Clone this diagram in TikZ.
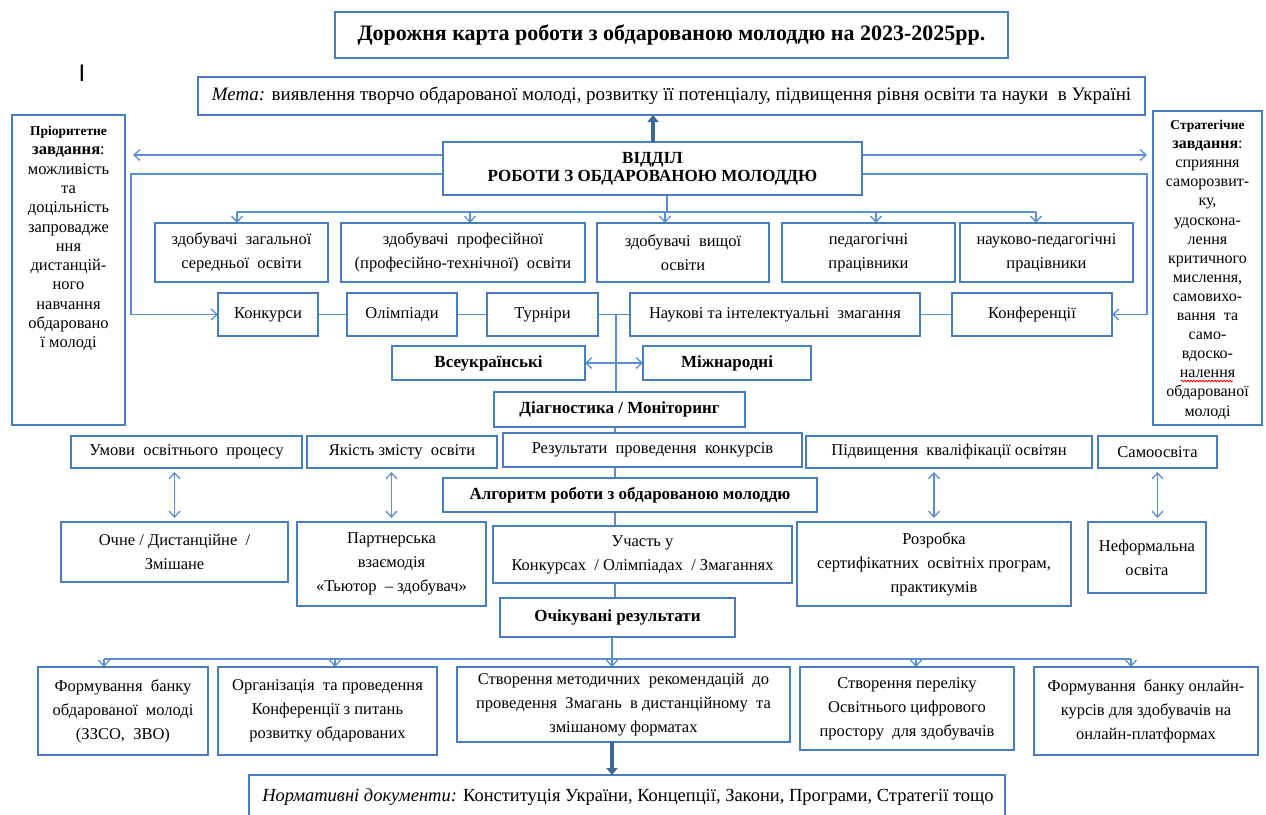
\documentclass[tikz,border=0pt]{standalone}
\usepackage{fontspec}
\setmainfont{Liberation Serif}
\setsansfont{Liberation Sans}
\usetikzlibrary{arrows.meta,decorations.pathmorphing,calc}
\definecolor{boxblue}{HTML}{4A7EBB}
\definecolor{lineblue}{HTML}{5B8FD0}
\definecolor{thickblue}{HTML}{3D6699}
\pgfdeclarelayer{back}
\pgfdeclarelayer{bg}
\pgfsetlayers{back,bg,main}
\tikzset{
 box/.style={draw=boxblue, line width=2.6pt, fill=white, inner sep=0pt, outer sep=0pt, align=center, font=\fontsize{16.5}{24}\selectfont},
 boldbox/.style={font=\fontsize{17}{24}\selectfont\bfseries},
 conn/.style={draw=lineblue, line width=1.3pt},
 arr/.style={conn, -{Straight Barb[length=6pt,width=11pt]}},
 darr/.style={conn, {Straight Barb[length=6pt,width=11pt]}-{Straight Barb[length=6pt,width=11pt]}},
 bigarr/.style={draw=thickblue, line width=4.5pt, -{Triangle[length=7pt,width=11pt]}},
 sidetext/.style={align=center, inner sep=0pt},
}
\newcommand\bx[6][]{\node[box,#1,minimum width={#4-#2},minimum height={#5-#3}] (#6) at ({(#2+#4)/2},{(#3+#5)/2})}
\begin{document}
\begin{tikzpicture}[x=1pt,y=-1pt]
\clip (0,0) rectangle (1266,814);
\begin{pgfonlayer}{back}
\fill[white] (0,0) rectangle (1266,814);
\end{pgfonlayer}

% title and goal
\bx[font=\fontsize{22}{26}\selectfont\bfseries]{335}{12}{1008}{58}{title}{Дорожня карта роботи з обдарованою молоддю на 2023-2025рр.};
\node[font=\fontsize{24}{24}\selectfont\sffamily, inner sep=0pt] (cursor) at (82,73) {I};
\bx[font=\fontsize{19}{22}\selectfont]{198}{77}{1145}{115}{meta}{\textit{Мета:} виявлення творчо обдарованої молоді, розвитку її потенціалу, підвищення рівня освіти та науки \ в Україні};
\bx[font=\fontsize{17}{18}\selectfont\bfseries]{443}{142}{862}{195}{vid}{ВІДДІЛ\\РОБОТИ З ОБДАРОВАНОЮ МОЛОДДЮ};

% side boxes
\bx{12}{115}{125}{425}{pri}{};
\node[sidetext, anchor=north, font=\fontsize{16.5}{19.3}\selectfont] (pritext) at ($(pri.north)+(0,11)$) {{\fontsize{13.5}{19.3}\selectfont\bfseries Пріоритетне}\\\textbf{завдання}:\\можливість\\та\\доцільність\\запровадже\\ння\\дистанцій-\\ного\\навчання\\обдаровано\\ї молоді};
\bx{1153}{111}{1262}{425}{str}{};
\node[sidetext, anchor=north, font=\fontsize{16}{19.1}\selectfont] (strtext) at ($(str.north)+(0,9)$) {{\fontsize{13.5}{19.1}\selectfont\bfseries Стратегічне}\\\textbf{завдання}:\\сприяння\\саморозвит-\\ку,\\удоскона-\\лення\\критичного\\мислення,\\самовихо-\\вання \ та\\само-\\вдоско-\\налення\\обдарованої\\молоді};

% row 1
\bx{155}{223}{328}{282}{za}{здобувачі \ загальної\\середньої \ освіти};
\bx{341}{223}{585}{282}{zb}{здобувачі \ професійної\\(професійно-технічної) \ освіти};
\bx{597}{223}{769}{282}{zc}{здобувачі \ вищої\\освіти};
\bx{782}{223}{955}{282}{zd}{педагогічні\\працівники};
\bx{960}{223}{1133}{282}{ze}{науково-педагогічні\\працівники};

% row 2
\bx{218}{293}{318}{336}{konk}{Конкурси};
\bx{347}{293}{457}{336}{olim}{Олімпіади};
\bx{487}{293}{598}{336}{turn}{Турніри};
\bx{630}{293}{920}{336}{nauk}{Наукові та інтелектуальні \ змагання};
\bx{952}{293}{1112}{336}{konf}{Конференції};

% row 3
\bx[boldbox]{392}{346}{585}{380}{vseu}{Всеукраїнські};
\bx[boldbox]{643}{346}{811}{380}{mizh}{Міжнародні};
\bx[boldbox]{494}{392}{745}{427}{diag}{Діагностика / Моніторинг};

% row 4
\bx{71}{436}{302}{468}{umov}{Умови \ освітнього \ процесу};
\bx{307}{436}{497}{468}{yak}{Якість змісту \ освіти};
\bx{503}{433}{802}{467}{rez}{Результати \ проведення \ конкурсів};
\bx{806}{436}{1092}{468}{pidv}{Підвищення \ кваліфікації освітян};
\bx{1098}{436}{1217}{468}{samo}{Самоосвіта};
\bx[boldbox]{443}{478}{817}{512}{alg}{Алгоритм роботи з обдарованою молоддю};

% row 5
\bx{61}{522}{288}{582}{ochne}{Очне / Дистанційне \ /\\Змішане};
\bx{297}{522}{486}{606}{part}{Партнерська\\взаємодія\\«Тьютор \ – здобувач»};
\bx{493}{526}{792}{583}{uch}{Участь у\\Конкурсах \ / Олімпіадах \ / Змаганнях};
\bx{797}{522}{1071}{606}{rozr}{Розробка\\сертифікатних \ освітніх програм,\\практикумів};
\bx{1088}{522}{1206}{593}{nef}{Неформальна\\освіта};
\bx[boldbox]{500}{598}{735}{637}{ochik}{Очікувані результати};

% row 6
\bx{38}{667}{208}{755}{fa}{Формування \ банку\\обдарованої \ молоді\\(ЗЗСО, \ ЗВО)};
\bx{218}{667}{437}{755}{fb}{Організація \ та проведення\\Конференції з питань\\розвитку обдарованих};
\bx{457}{667}{790}{742}{fc}{Створення методичних \ рекомендацій \ до\\проведення \ Змагань \ в дистанційному \ та\\змішаному форматах};
\bx{800}{667}{1014}{750}{fd}{Створення переліку\\Освітнього цифрового\\простору \ для здобувачів};
\bx{1034}{667}{1258}{755}{fe}{Формування \ банку онлайн-\\курсів для здобувачів на\\онлайн-платформах};

% normative
\bx{249}{775}{1005}{840}{norm}{};
\node[inner sep=0pt, font=\fontsize{18.5}{20}\selectfont] (normtext) at (628,797) {\textit{Нормативні документи:} Конституція України, Концепції, Закони, Програми, Стратегії тощо};

% helper coordinates
\coordinate (yA) at (0,155);
\coordinate (yB) at (0,174);
\coordinate (xAL) at (133,0);
\coordinate (xAR) at (1147,0);
\coordinate (xL) at (131,0);
\coordinate (xR) at (1147,0);
\coordinate (d0) at (667,212);
\coordinate (d1) at (237,212);
\coordinate (d2) at (470,212);
\coordinate (d3) at (665,212);
\coordinate (d4) at (876,212);
\coordinate (d5) at (1036,212);
\coordinate (t1) at (616,0);
\coordinate (t2) at (615,0);
\coordinate (e0) at (612,659);
\coordinate (e1) at (104,659);
\coordinate (e2) at (335,659);
\coordinate (e4) at (916,659);
\coordinate (e5) at (1131,659);
\coordinate (up) at (653,0);

\begin{pgfonlayer}{bg}
% from department to sides
\draw[arr] (vid.west |- yA) -- (xAL |- yA);
\draw[arr] (vid.east |- yA) -- (xAR |- yA);
\draw[arr] (vid.west |- yB) -| (xL |- konk.west) -- (konk.west);
\draw[arr] (vid.east |- yB) -| (xR |- konf.east) -- (konf.east);
% distribution to row 1
\draw[conn] (d0 |- vid.south) -- (d0);
\draw[conn] (d1) -- (d5);
\foreach \d/\b in {d1/za,d2/zb,d3/zc,d4/zd,d5/ze}{
  \draw[arr] (\d) -- (\d |- \b.north);
}
% row 2 chain
\draw[conn] (konk) -- (olim);
\draw[conn] (olim) -- (turn);
\draw[conn] (turn) -- (nauk);
\draw[conn] (nauk) -- (konf);
% trunk
\draw[conn] (t1 |- turn) -- (t1 |- diag.north);
\draw[darr] (vseu.east) -- (mizh.west);
\draw[conn] (t2 |- diag.south) -- (t2 |- ochik.north);
% vertical double arrows
\draw[darr] ($(umov.south -| ochne.north)+(0,4)$) -- ($(ochne.north)+(0,-4)$);
\draw[darr] ($(yak.south -| part.north)+(0,4)$) -- ($(part.north)+(0,-4)$);
\draw[darr] ($(pidv.south -| rozr.north)+(0,4)$) -- ($(rozr.north)+(0,-4)$);
\draw[darr] ($(samo.south)+(0,4)$) -- ($(samo.south |- nef.north)+(0,-4)$);
% expected results distribution
\draw[conn] (e0 |- ochik.south) -- (e0);
\draw[conn] (e1) -- (e5);
\foreach \e/\b in {e1/fa,e2/fb,e0/fc,e4/fd,e5/fe}{
  \draw[arr] (\e) -- (\e |- \b.north);
}
\end{pgfonlayer}

% thick arrows
\draw[bigarr] (up |- vid.north) -- (up |- meta.south);
\draw[bigarr] (e0 |- fc.south) -- (e0 |- norm.north);

% spell-check underline
\draw[red, line width=0.8pt, decorate, decoration={snake, amplitude=0.8pt, segment length=3pt}] (1181,381) -- (1233,381);
\end{tikzpicture}
\end{document}
